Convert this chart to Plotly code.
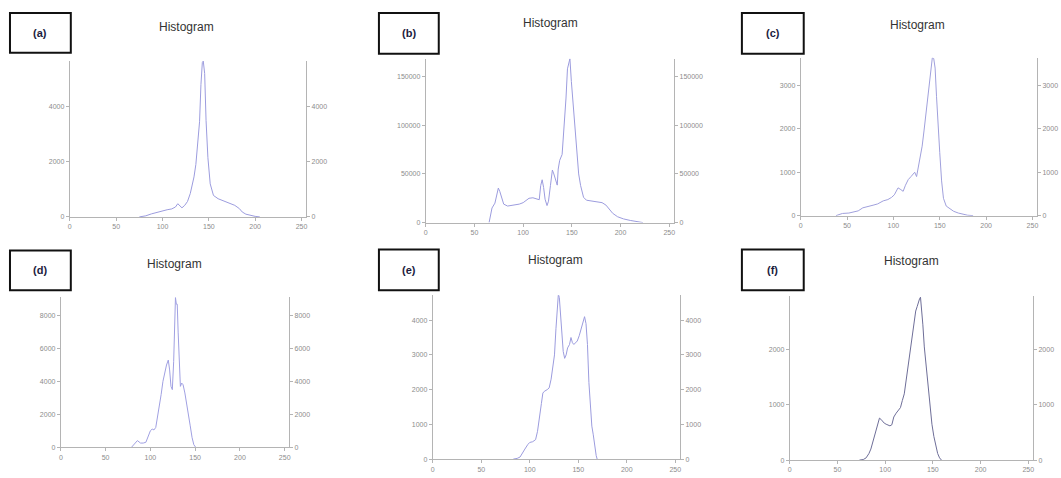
import plotly.graph_objects as go

W, H = 1061, 478

# ---------------- data (intensity level -> pixel count) ----------------
a_x = [75, 82, 88, 94, 99, 105, 110, 114, 116.5, 119, 121, 124, 127, 130, 132, 134, 136, 138, 140, 141.5,
       143, 144, 145.5, 147, 149, 151.5, 155, 160, 165, 171, 178, 183, 186, 190, 195, 200, 205]
a_y = [0, 40, 110, 170, 220, 260, 290, 360, 480, 400, 330, 420, 560, 850, 1100, 1450, 1900, 2700, 3450, 4800,
       5600, 5650, 5200, 3500, 2150, 1200, 780, 660, 600, 530, 420, 300, 180, 100, 50, 20, 0]

b_x = [65, 66.5, 68, 71, 73, 74.5, 76, 78, 80, 84, 90, 96, 100, 106, 110, 113, 116.5, 118, 119.5, 121, 122.5,
       124.5, 126, 128, 130, 131.5, 133, 135, 136, 137.5, 140, 142, 144, 145.5, 147, 148, 149.5, 151, 153, 155,
       157, 159, 162, 165, 170, 175, 181, 185, 188, 192, 197, 203, 210, 217, 223]
b_y = [0, 8000, 15000, 20000, 28000, 35500, 32000, 24000, 19000, 17000, 18000, 19000, 20500, 25000, 25500,
       24800, 23500, 38000, 44000, 36000, 24000, 17500, 22000, 38000, 54000, 50000, 44000, 38500, 55000, 64000,
       70000, 95000, 128000, 158000, 167000, 168500, 145000, 125000, 100000, 72000, 50000, 38000, 26000, 23000,
       22000, 21000, 20500, 18000, 14000, 9500, 6000, 3800, 2200, 1000, 0]

c_x = [38, 45, 52, 57, 62, 67, 72, 78, 83, 89, 94, 98, 101, 105, 108, 110.5, 113, 116, 119, 121, 123, 125, 127,
       129, 131, 133, 135, 137, 139, 140.5, 142, 143.5, 145, 146.5, 148, 150, 152, 154, 157, 161, 165, 170, 175,
       180, 186]
c_y = [0, 50, 60, 80, 110, 180, 200, 240, 270, 340, 370, 420, 480, 640, 600, 560, 700, 830, 900, 960, 1000, 900,
       1150, 1300, 1600, 1950, 2350, 2700, 3000, 3350, 3640, 3620, 3400, 2750, 2100, 1450, 800, 400, 220, 150,
       100, 60, 30, 10, 0]

d_x = [79, 82, 85.5, 89, 92, 95, 98, 100, 102, 104, 106, 108, 110, 112, 114, 116, 118, 120, 121.5, 123, 124.5,
       126, 127, 128, 129, 130, 131, 132, 133.5, 135, 136.5, 138.5, 140.5, 142.5, 144.5, 146.5, 148.5, 150.5]
d_y = [0, 200, 400, 250, 250, 300, 800, 1000, 1100, 1050, 1200, 1800, 2400, 3200, 4000, 4600, 5000, 5300, 4700,
       3700, 3500, 5200, 7500, 9100, 8700, 8700, 7000, 5200, 3700, 3900, 3800, 3300, 2700, 2000, 1300, 600, 150, 0]

e_x = [83, 87, 90, 93, 95, 98, 100, 103, 106, 108, 110, 112, 113.5, 115, 118, 120, 122, 124, 125.5, 127, 128.5,
       129.5, 130.5, 131.5, 133, 134.5, 136, 137.5, 139, 141, 142.5, 144, 145.5, 147, 149, 151, 153, 155, 156.5,
       158, 159.5, 161, 162.5, 164, 165.5, 167, 168.5, 169.5]
e_y = [0, 20, 60, 180, 290, 420, 480, 500, 560, 800, 1150, 1600, 1900, 1950, 2000, 2050, 2300, 2700, 3000, 3750,
       4500, 4750, 4650, 4200, 3600, 3100, 2900, 3000, 3200, 3300, 3500, 3350, 3300, 3350, 3400, 3550, 3750, 3950,
       4100, 3900, 3300, 2200, 1400, 950, 700, 300, 100, 0]

f_x = [73, 77, 80, 83, 85, 87, 89, 91, 92.5, 94, 95.5, 97, 99, 101, 103, 105, 107, 109, 111.5, 114, 116, 118, 120,
       122, 124, 126, 128, 130, 132, 133.5, 135, 136, 137, 138, 139.5, 141, 143, 145, 147, 149, 151, 153, 155, 157,
       159]
f_y = [0, 10, 40, 120, 200, 330, 430, 560, 680, 760, 740, 700, 670, 650, 630, 620, 640, 780, 850, 900, 950, 1080,
       1200, 1450, 1700, 1950, 2200, 2420, 2700, 2780, 2880, 2920, 2950, 2780, 2450, 2050, 1700, 1300, 950, 650,
       430, 250, 120, 40, 0]

labels = ["(a)", "(b)", "(c)", "(d)", "(e)", "(f)"]
title_text = "Histogram"
x_ticks = [0, 50, 100, 150, 200, 250]
y_ticks = [[0, 2000, 4000], [0, 50000, 100000, 150000], [0, 1000, 2000, 3000],
           [0, 2000, 4000, 6000, 8000], [0, 1000, 2000, 3000, 4000], [0, 1000, 2000]]
y_max = [5650, 168500, 3640, 9130, 4720, 2970]
series = [(a_x, a_y), (b_x, b_y), (c_x, c_y), (d_x, d_y), (e_x, e_y), (f_x, f_y)]

# ---------------- layout geometry (pixels) ----------------
# left axis x, right axis x, top y, baseline y
frames = [(68, 305, 61.5, 218.3), (425, 674, 59, 224), (801, 1038, 58, 217),
          (59, 288, 299, 450), (432, 680, 297, 462), (790, 1034, 298, 463)]
title_pos = [(185, 27), (550, 23), (918, 25), (173, 266), (555, 262), (912, 263)]
boxes = [(8, 13, 69, 53), (378, 13, 438, 54), (742, 13, 804, 54),
         (8, 252, 69, 292), (378, 251, 438, 292), (742, 251, 804, 292)]
line_colors = ["#9c9cde", "#9c9cde", "#a0a0dc", "#a0a0e2", "#9c9cde", "#6e6e98"]

fig = go.Figure()
layout = dict(width=W, height=H, margin=dict(l=0, r=0, t=0, b=0), showlegend=False,
              paper_bgcolor="white", plot_bgcolor="white",
              font=dict(family="Liberation Sans, Arial, sans-serif"))
shapes, annotations = [], []

tick_font = dict(family="Liberation Sans, Arial, sans-serif", size=7, color="#8c8c8c")

for i, ((xs, ys), (L, R, T, B)) in enumerate(zip(series, frames)):
    n = i + 1
    xid = "x" if n == 1 else f"x{n}"
    yl = 2 * i + 1
    yr = 2 * i + 2
    ylid = "y" if yl == 1 else f"y{yl}"
    yrid = f"y{yr}"
    fig.add_trace(go.Scatter(x=xs, y=ys, mode="lines", xaxis=xid, yaxis=ylid,
                             line=dict(color=line_colors[i], width=1), hoverinfo="skip"))
    fig.add_trace(go.Scatter(x=xs, y=ys, mode="lines", xaxis=xid, yaxis=yrid,
                             line=dict(color="rgba(0,0,0,0)", width=0), hoverinfo="skip"))
    xkey = "xaxis" if n == 1 else f"xaxis{n}"
    ylkey = "yaxis" if yl == 1 else f"yaxis{yl}"
    yrkey = f"yaxis{yr}"
    ydom = [1 - B / H, 1 - T / H]
    common = dict(showgrid=False, zeroline=False, showline=True, linecolor="#b4b4b4", linewidth=1,
                  ticks="outside", ticklen=3, tickcolor="#b4b4b4", tickwidth=1, tickfont=tick_font,
                  ticklabeloverflow="allow")
    layout[xkey] = dict(domain=[L / W, R / W], anchor=ylid, range=[0, 255], tickvals=x_ticks,
                        ticktext=[str(v) for v in x_ticks], **common)
    layout[ylkey] = dict(domain=ydom, anchor=xid, range=[0, y_max[i]], tickvals=y_ticks[i],
                         ticktext=[str(v) for v in y_ticks[i]], **common)
    layout[yrkey] = dict(domain=ydom, anchor=xid, overlaying=ylid, side="right",
                         range=[0, y_max[i]], tickvals=y_ticks[i],
                         ticktext=[str(v) for v in y_ticks[i]], **common)

    tx, ty = title_pos[i]
    annotations.append(dict(x=tx / W, y=1 - ty / H, xref="paper", yref="paper", text=title_text,
                            showarrow=False, xanchor="center", yanchor="middle",
                            font=dict(size=12, color="#333333")))
    x0, y0, x1, y1 = boxes[i]
    shapes.append(dict(type="rect", xref="paper", yref="paper", x0=x0 / W, x1=x1 / W,
                       y0=1 - y1 / H, y1=1 - y0 / H, line=dict(color="#111111", width=2),
                       fillcolor="white", layer="above"))
    annotations.append(dict(x=(x0 + x1) / 2 / W, y=1 - (y0 + y1) / 2 / H, xref="paper", yref="paper",
                            text="<b>" + labels[i] + "</b>", showarrow=False, xanchor="center",
                            yanchor="middle", font=dict(size=11, color="#1c1c40")))

layout["shapes"] = shapes
layout["annotations"] = annotations
fig.update_layout(**layout)
fig.write_html("out.html", config={"displayModeBar": False},
               post_script="document.body.style.margin='0';document.body.style.overflow='hidden';")
